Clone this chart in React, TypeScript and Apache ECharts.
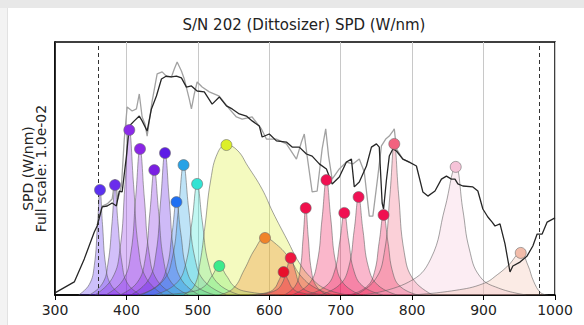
import React, { useEffect, useRef } from "react";
import * as echarts from "echarts";

// Measured spectrum (black) and second trace (gray), normalised to full scale
const blackNm = [300, 327, 341, 355, 359, 366, 373, 380, 386, 390, 394, 400, 404, 411, 418, 422, 429, 435, 442, 449, 456, 463, 470, 477, 484, 491, 499, 509, 520, 530, 540, 548, 558, 568, 576, 586, 590, 600, 610, 624, 632, 642, 652, 660, 670, 680, 688, 698, 708, 715, 719, 726, 736, 743, 750, 754, 758, 760, 764, 768, 773, 778, 787, 796, 806, 815, 822, 832, 841, 848, 855, 860, 864, 871, 885, 892, 899, 906, 912, 916, 923, 930, 937, 941, 951, 961, 969, 975, 982, 989, 1000];
const blackVal = [0.009, 0.057, 0.157, 0.274, 0.3, 0.383, 0.387, 0.4, 0.387, 0.452, 0.448, 0.604, 0.735, 0.757, 0.778, 0.757, 0.713, 0.809, 0.865, 0.939, 0.952, 0.948, 0.952, 0.944, 0.904, 0.909, 0.887, 0.883, 0.83, 0.861, 0.822, 0.809, 0.787, 0.778, 0.757, 0.735, 0.687, 0.7, 0.67, 0.665, 0.643, 0.643, 0.613, 0.604, 0.57, 0.548, 0.483, 0.513, 0.578, 0.591, 0.47, 0.491, 0.561, 0.643, 0.657, 0.643, 0.4, 0.374, 0.5, 0.604, 0.635, 0.626, 0.591, 0.578, 0.561, 0.448, 0.43, 0.452, 0.504, 0.517, 0.504, 0.504, 0.483, 0.474, 0.47, 0.452, 0.374, 0.339, 0.317, 0.3, 0.309, 0.222, 0.1, 0.126, 0.143, 0.17, 0.213, 0.265, 0.265, 0.317, 0.335];

const grayNm = [359, 366, 373, 380, 384, 388, 393, 397, 401, 408, 414, 418, 422, 426, 429, 436, 443, 450, 457, 463, 467, 471, 477, 481, 488, 491, 495, 499, 506, 516, 530, 544, 554, 562, 576, 589, 596, 610, 624, 638, 645, 649, 653, 660, 667, 674, 679, 683, 688, 698, 708, 717, 726, 733, 740, 745, 752, 757, 763, 768, 773, 775, 778, 787, 796];
const grayVal = [0.304, 0.387, 0.396, 0.417, 0.504, 0.417, 0.474, 0.678, 0.817, 0.8, 0.809, 0.874, 0.774, 0.743, 0.691, 0.843, 0.961, 0.97, 0.948, 0.948, 0.983, 1.013, 0.974, 0.939, 0.852, 0.809, 0.874, 0.926, 0.904, 0.883, 0.865, 0.809, 0.774, 0.765, 0.774, 0.722, 0.678, 0.678, 0.657, 0.591, 0.665, 0.7, 0.604, 0.448, 0.452, 0.635, 0.722, 0.604, 0.504, 0.548, 0.578, 0.57, 0.591, 0.535, 0.343, 0.343, 0.517, 0.648, 0.678, 0.691, 0.713, 0.722, 0.635, 0.591, 0.578];

// LED channel peaks (marker positions)
const peakNm = [363, 384, 404, 419, 439, 454, 470, 480, 499, 530, 540, 594, 620, 630, 651, 680, 705, 725, 760, 775, 861, 952];
const peakVal = [0.457, 0.478, 0.717, 0.635, 0.543, 0.617, 0.404, 0.565, 0.483, 0.126, 0.652, 0.248, 0.1, 0.161, 0.378, 0.5, 0.357, 0.426, 0.348, 0.657, 0.557, 0.183];
const peakColors = ["#5b30f0", "#6b2cec", "#8a2ae8", "#8b25e6", "#7a1fe2", "#5d1ce6", "#1f6ff2", "#27a2e6", "#33e3d3", "#3deb8c", "#dcef2a", "#f0832a", "#e8102c", "#ee1840", "#f0104c", "#f01052", "#f01052", "#f01256", "#f01050", "#f2627f", "#f6c3d8", "#f2bcaa"];

// Channel spectra as [nm, value]
const ch363 = [[333, 0], [348, 0.046], [355, 0.128], [359.5, 0.306], [363, 0.457], [366.5, 0.306], [371, 0.128], [378, 0.046], [393, 0]];
const ch384 = [[348, 0], [366, 0.048], [374, 0.134], [380, 0.32], [384, 0.478], [388, 0.32], [394, 0.134], [402, 0.048], [420, 0]];
const ch404 = [[356, 0], [380, 0.072], [391, 0.2], [398, 0.48], [404, 0.717], [410, 0.48], [417, 0.2], [428, 0.072], [452, 0]];
const ch419 = [[371, 0], [395, 0.064], [406, 0.178], [413, 0.425], [419, 0.635], [425, 0.425], [432, 0.178], [443, 0.064], [467, 0]];
const ch439 = [[391, 0], [415, 0.054], [426, 0.152], [433, 0.364], [439, 0.543], [445, 0.364], [452, 0.152], [463, 0.054], [487, 0]];
const ch454 = [[406, 0], [430, 0.062], [441, 0.173], [448, 0.413], [454, 0.617], [460, 0.413], [467, 0.173], [478, 0.062], [502, 0]];
const ch470 = [[416, 0], [443, 0.04], [456, 0.113], [464, 0.271], [470, 0.404], [476, 0.271], [484, 0.113], [497, 0.04], [524, 0]];
const ch480 = [[420, 0], [450, 0.057], [464, 0.158], [473, 0.379], [480, 0.565], [487, 0.379], [496, 0.158], [510, 0.057], [540, 0]];
const ch499 = [[439, 0], [469, 0.048], [483, 0.135], [492, 0.324], [499, 0.483], [506, 0.324], [515, 0.135], [529, 0.048], [559, 0]];
const ch530 = [[446, 0], [488, 0.013], [508, 0.035], [520, 0.084], [530, 0.126], [540, 0.084], [552, 0.035], [572, 0.013], [614, 0]];
const ch540 = [[480, 0], [495, 0.04], [503, 0.14], [510, 0.3], [518, 0.5], [528, 0.62], [540, 0.652], [555, 0.63], [570, 0.56], [590, 0.46], [605, 0.36], [625, 0.24], [642, 0.14], [660, 0.07], [680, 0.025], [710, 0]];
const ch594 = [[530, 0], [550, 0.03], [565, 0.11], [580, 0.2], [594, 0.248], [610, 0.22], [628, 0.16], [645, 0.08], [665, 0.03], [690, 0]];
const ch620 = [[572, 0], [596, 0.01], [607, 0.028], [614, 0.067], [620, 0.1], [626, 0.067], [633, 0.028], [644, 0.01], [668, 0]];
const ch630 = [[582, 0], [606, 0.016], [617, 0.045], [624, 0.108], [630, 0.161], [636, 0.108], [643, 0.045], [654, 0.016], [678, 0]];
const ch651 = [[621, 0], [636, 0.038], [643, 0.106], [647.5, 0.253], [651, 0.378], [654.5, 0.253], [659, 0.106], [666, 0.038], [681, 0]];
const ch680 = [[632, 0], [656, 0.05], [667, 0.14], [674, 0.335], [680, 0.5], [686, 0.335], [693, 0.14], [704, 0.05], [728, 0]];
const ch705 = [[651, 0], [678, 0.036], [691, 0.1], [699, 0.239], [705, 0.357], [711, 0.239], [719, 0.1], [732, 0.036], [759, 0]];
const ch725 = [[671, 0], [698, 0.043], [711, 0.119], [719, 0.285], [725, 0.426], [731, 0.285], [739, 0.119], [752, 0.043], [779, 0]];
const ch760 = [[712, 0], [736, 0.035], [747, 0.097], [754, 0.233], [760, 0.348], [766, 0.233], [773, 0.097], [784, 0.035], [808, 0]];
const ch775 = [[721, 0], [748, 0.066], [761, 0.184], [769, 0.44], [775, 0.657], [781, 0.44], [789, 0.184], [802, 0.066], [829, 0]];
const ch861 = [[731, 0], [795, 0.056], [826, 0.157], [846, 0.38], [861, 0.557], [871, 0.37], [880, 0.2], [895, 0.08], [921, 0.03], [960, 0]];
const ch952 = [[800, 0], [860, 0.02], [900, 0.05], [920, 0.09], [935, 0.13], [952, 0.183], [962, 0.13], [970, 0.06], [980, 0.01], [990, 0]];

const channelCurves = [ch363, ch384, ch404, ch419, ch439, ch454, ch470, ch480, ch499, ch530, ch540, ch594, ch620, ch630, ch651, ch680, ch705, ch725, ch760, ch775, ch861, ch952];

const xTicks = [300, 400, 500, 600, 700, 800, 900, 1000];
const dashedNm = [360, 978];

const FONT = "DejaVu Sans";

export default function App() {
  const ref = useRef<HTMLDivElement>(null);
  useEffect(() => {
    if (!ref.current) return;
    const chart = echarts.init(ref.current, undefined, { renderer: "svg" });
    const channelSeries = channelCurves.map((curve, i) => ({
      type: "line",
      data: curve,
      smooth: 0.45,
      symbol: "none",
      lineStyle: { color: "rgba(90,90,90,0.55)", width: 1 },
      areaStyle: { color: peakColors[i], opacity: 0.3 },
      z: 2,
      silent: true,
    }));
    chart.setOption({
      animation: false,
      backgroundColor: "#ffffff",
      grid: { left: 55, right: 29, top: 42, bottom: 30, show: true, borderColor: "#000", borderWidth: 1.5, backgroundColor: "transparent" },
      graphic: [
        { type: "rect", shape: { x: 0, y: 0, width: 584, height: 8 }, style: { fill: "#e8e8e8" }, silent: true },
        { type: "rect", shape: { x: 0, y: 8, width: 7, height: 317 }, style: { fill: "#f3f3f3" }, silent: true },
        { type: "line", shape: { x1: 7.5, y1: 8, x2: 7.5, y2: 325 }, style: { stroke: "#e2e2e2", lineWidth: 1 }, silent: true },
        {
          type: "text",
          x: 304,
          y: 25,
          style: { text: "S/N 202 (Dittosizer) SPD (W/nm)", font: `15px ${FONT}`, fill: "#222", textAlign: "center", textVerticalAlign: "middle" },
        },
      ],
      xAxis: {
        type: "value",
        min: 300,
        max: 1000,
        interval: 100,
        axisLine: { show: true, lineStyle: { color: "#000", width: 1.5 } },
        axisTick: { show: true, inside: false, length: 5, lineStyle: { color: "#000", width: 1 } },
        axisLabel: {
          fontFamily: FONT,
          fontSize: 14,
          color: "#222",
          margin: 8,
          formatter: (v: number) => (xTicks.includes(v) ? String(v) : ""),
        },
        splitLine: { show: true, lineStyle: { color: "#c8c8c8", width: 1 } },
      },
      yAxis: {
        type: "value",
        min: 0,
        max: 1.1,
        name: "SPD (W/nm)\nFull scale: 1.0e-02",
        nameLocation: "middle",
        nameGap: 8,
        nameRotate: 90,
        nameTextStyle: { fontFamily: FONT, fontSize: 14, color: "#222", lineHeight: 13 },
        axisLine: { show: true, lineStyle: { color: "#000", width: 1.5 } },
        axisTick: { show: false },
        axisLabel: { show: false },
        splitLine: { show: false },
      },
      series: [
        ...channelSeries,
        {
          type: "line",
          data: grayNm.map((x, i) => [x, grayVal[i]]),
          symbol: "none",
          lineStyle: { color: "#a2a2a2", width: 1.3 },
          z: 3,
          silent: true,
        },
        {
          type: "line",
          data: blackNm.map((x, i) => [x, blackVal[i]]),
          symbol: "none",
          lineStyle: { color: "#262626", width: 1.3 },
          z: 4,
          silent: true,
          markLine: {
            silent: true,
            symbol: "none",
            label: { show: false },
            lineStyle: { type: [4, 3], color: "#333", width: 1 },
            data: dashedNm.map((x) => ({ xAxis: x })),
          },
        },
        {
          type: "scatter",
          data: peakNm.map((x, i) => ({ value: [x, peakVal[i]], itemStyle: { color: peakColors[i] } })),
          symbol: "circle",
          symbolSize: 11,
          itemStyle: { borderColor: "rgba(110,110,110,0.6)", borderWidth: 1, opacity: 1 },
          z: 5,
          silent: true,
        },
      ],
    });
    return () => chart.dispose();
  }, []);
  return (
    <div
      ref={ref}
      style={{ position: "fixed", left: 0, top: 0, width: 584, height: 325, background: "#fff" }}
    />
  );
}
